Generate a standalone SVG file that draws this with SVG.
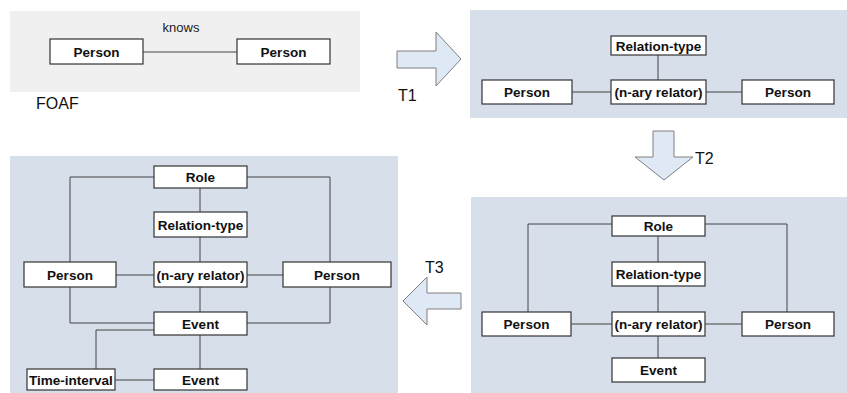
<svg xmlns="http://www.w3.org/2000/svg" width="847" height="393" viewBox="0 0 847 393">
<style>
.bg{fill:#f0f0f0}
.pn{fill:#d6dfea}
.box rect{fill:#fff;stroke:#333;stroke-width:1.2}
.box text{font-family:"Liberation Sans",Arial,sans-serif;font-weight:bold;font-size:13.5px;fill:#111;text-anchor:middle}
.lbl{font-family:"Liberation Sans",Arial,sans-serif;font-size:16px;fill:#111}
.arr{fill:#dfe8f5;stroke:#7f7f7f;stroke-width:1}
#connectors path{fill:none;stroke:#444;stroke-width:1}
</style>
<!-- panels -->
<rect class="bg" x="10" y="11" width="350" height="81"/>
<rect class="pn" x="470" y="10" width="377" height="108"/>
<rect class="pn" x="471" y="197" width="376" height="196"/>
<rect class="pn" x="10" y="156" width="388" height="237"/>
<!-- arrows -->
<polygon class="arr" points="397,51 436,51 436,32 461,59 436,86 436,68 397,68"/>
<polygon class="arr" points="653,131 674,131 674,157 693,157 664,180 635,157 653,157"/>
<polygon class="arr" points="461,293 427,293 427,277 403,301 427,325 427,309 461,309"/>
<text class="lbl" x="36" y="109">FOAF</text>
<text class="lbl" x="398" y="101">T1</text>
<text class="lbl" x="695" y="164">T2</text>
<text class="lbl" x="425" y="273">T3</text>
<text x="181" y="32" font-family="Liberation Sans,Arial,sans-serif" font-size="13" text-anchor="middle" fill="#222">knows</text>
<g id="connectors">
<path d="M143,52H237"/>
<path d="M658,55V80M572,92H611M706,92H742"/>
<path d="M612,224H528V312M705,224H787V312M658,236V262M658,286V312M658,336V358M571,324H612M705,324H742"/>
<path d="M154,177H70V262M247,177H330V262M70,287V323H154M330,287V323H247M200,188V212M200,237V262M200,287V312M200,335V369M154,330H96V369M115,380H154M116,275H154M247,275H283"/>
</g>
<!-- FOAF -->
<g id="foaf-person1" class="box"><rect x="50" y="39" width="93" height="25"/><text x="96.5" y="56.5">Person</text></g>
<g id="foaf-person2" class="box"><rect x="237" y="39" width="93" height="25"/><text x="283.5" y="56.5">Person</text></g>
<!-- T1 -->
<g id="t1-reltype" class="box"><rect x="611" y="36" width="95" height="19"/><text x="658.5" y="50.5">Relation-type</text></g>
<g id="t1-relator" class="box"><rect x="611" y="80" width="95" height="24"/><text x="658.5" y="97">(n-ary relator)</text></g>
<g id="t1-person1" class="box"><rect x="482" y="80" width="90" height="24"/><text x="527" y="97">Person</text></g>
<g id="t1-person2" class="box"><rect x="742" y="80" width="92" height="24"/><text x="788" y="97">Person</text></g>
<!-- T2 -->
<g id="t2-role" class="box"><rect x="612" y="216" width="93" height="20"/><text x="658.5" y="231">Role</text></g>
<g id="t2-reltype" class="box"><rect x="612" y="262" width="93" height="24"/><text x="658.5" y="279">Relation-type</text></g>
<g id="t2-relator" class="box"><rect x="612" y="312" width="93" height="24"/><text x="658.5" y="329">(n-ary relator)</text></g>
<g id="t2-event" class="box"><rect x="612" y="358" width="93" height="24"/><text x="658.5" y="375">Event</text></g>
<g id="t2-person1" class="box"><rect x="482" y="312" width="89" height="24"/><text x="526.5" y="329">Person</text></g>
<g id="t2-person2" class="box"><rect x="742" y="312" width="92" height="24"/><text x="788" y="329">Person</text></g>
<!-- T3 -->
<g id="t3-role" class="box"><rect x="154" y="166" width="93" height="22"/><text x="200.5" y="182">Role</text></g>
<g id="t3-reltype" class="box"><rect x="154" y="212" width="93" height="25"/><text x="200.5" y="229.5">Relation-type</text></g>
<g id="t3-relator" class="box"><rect x="154" y="262" width="93" height="25"/><text x="200.5" y="279.5">(n-ary relator)</text></g>
<g id="t3-event" class="box"><rect x="154" y="312" width="93" height="23"/><text x="200.5" y="328.5">Event</text></g>
<g id="t3-event2" class="box"><rect x="154" y="369" width="93" height="21"/><text x="200.5" y="384.5">Event</text></g>
<g id="t3-person1" class="box"><rect x="24" y="262" width="92" height="25"/><text x="70" y="279.5">Person</text></g>
<g id="t3-person2" class="box"><rect x="283" y="262" width="108" height="25"/><text x="337" y="279.5">Person</text></g>
<g id="t3-time" class="box"><rect x="27" y="369" width="88" height="21"/><text x="71" y="384.5">Time-interval</text></g>
</svg>
